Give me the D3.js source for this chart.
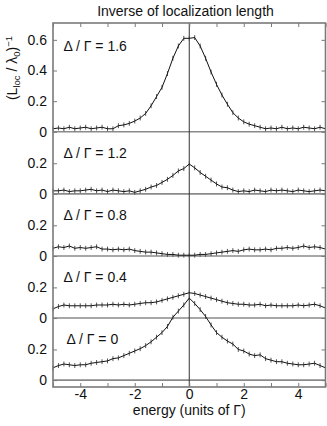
<!DOCTYPE html>
<html>
<head>
<meta charset="utf-8">
<script src="https://cdn.jsdelivr.net/npm/d3@7"></script>
<style>
  body { margin: 0; background: #fff; }
  svg { display: block; font-family: "Liberation Sans", Arial, sans-serif; }
</style>
</head>
<body>
<script>
// energy grid (units of Gamma)
var energy = [-5, -4.8, -4.6, -4.4, -4.2, -4, -3.8, -3.6, -3.4, -3.2, -3, -2.8, -2.6, -2.4, -2.2, -2,
  -1.8, -1.6, -1.4, -1.2, -1, -0.8, -0.6, -0.4, -0.2, 0, 0.2, 0.4, 0.6, 0.8, 1, 1.2, 1.4, 1.6, 1.8, 2,
  2.2, 2.4, 2.6, 2.8, 3, 3.2, 3.4, 3.6, 3.8, 4, 4.2, 4.4, 4.6, 4.8, 5];

// inverse localization length for each gap value
var gap16 = [0.02, 0.025, 0.02, 0.03, 0.02, 0.025, 0.03, 0.02, 0.025, 0.03, 0.02, 0.02, 0.04, 0.045, 0.055, 0.07,
  0.09, 0.12, 0.17, 0.23, 0.29, 0.38, 0.48, 0.56, 0.61, 0.61, 0.615, 0.56, 0.48, 0.39, 0.31, 0.24, 0.18, 0.125, 0.09, 0.065,
  0.05, 0.04, 0.03, 0.02, 0.025, 0.02, 0.03, 0.02, 0.025, 0.02, 0.03, 0.025, 0.02, 0.03, 0.02];
var gap12 = [0.02, 0.02, 0.025, 0.015, 0.02, 0.02, 0.025, 0.03, 0.02, 0.025, 0.015, 0.025, 0.02, 0.015, 0.02, 0.01,
  0.02, 0.03, 0.045, 0.055, 0.075, 0.095, 0.12, 0.15, 0.165, 0.195, 0.17, 0.14, 0.115, 0.09, 0.065, 0.045, 0.04, 0.025, 0.015, 0.02,
  0.015, 0.025, 0.02, 0.015, 0.025, 0.02, 0.025, 0.02, 0.015, 0.025, 0.02, 0.015, 0.02, 0.025, 0.02];
var gap08 = [0.05, 0.06, 0.055, 0.065, 0.05, 0.055, 0.05, 0.055, 0.06, 0.045, 0.045, 0.04, 0.045, 0.04, 0.045, 0.035,
  0.03, 0.025, 0.025, 0.02, 0.015, 0.01, 0.01, 0.005, 0.005, 0.005, 0.005, 0.01, 0.01, 0.015, 0.02, 0.025, 0.03, 0.035, 0.03, 0.04,
  0.045, 0.04, 0.04, 0.045, 0.04, 0.05, 0.05, 0.055, 0.05, 0.055, 0.065, 0.055, 0.06, 0.055, 0.045];
var gap04 = [0.06, 0.075, 0.085, 0.08, 0.08, 0.08, 0.08, 0.08, 0.085, 0.085, 0.085, 0.09, 0.085, 0.09, 0.085, 0.09,
  0.095, 0.1, 0.1, 0.105, 0.115, 0.125, 0.135, 0.145, 0.155, 0.165, 0.16, 0.15, 0.14, 0.13, 0.12, 0.11, 0.1, 0.095, 0.09, 0.09,
  0.085, 0.085, 0.09, 0.08, 0.085, 0.08, 0.08, 0.08, 0.08, 0.085, 0.08, 0.085, 0.09, 0.08, 0.065];
var gap00 = [0.08, 0.095, 0.105, 0.1, 0.095, 0.1, 0.1, 0.11, 0.115, 0.12, 0.125, 0.14, 0.145, 0.16, 0.175, 0.19,
  0.205, 0.225, 0.25, 0.28, 0.31, 0.35, 0.41, 0.45, 0.49, 0.535, 0.5, 0.46, 0.415, 0.36, 0.31, 0.28, 0.255, 0.235, 0.2, 0.19,
  0.17, 0.16, 0.165, 0.14, 0.13, 0.12, 0.12, 0.11, 0.105, 0.1, 0.1, 0.105, 0.11, 0.095, 0.08];

var series = [gap16, gap12, gap08, gap04, gap00];
var gapLabels = ["1.6", "1.2", "0.8", "0.4", "0"];
var offsets = [1.62, 1.215, 0.81, 0.405, 0];   // vertical shift of each curve
var errHalf = 0.016;

var yTicksTop = [0, 0.2, 0.4, 0.6];
var yTicksRest = [0, 0.2];
var xTicks = [-4, -2, 0, 2, 4];
var xMinorTicks = [-5, -4, -3, -2, -1, 0, 1, 2, 3, 4, 5];

// Set up the SVG container
var svg = d3.select("body").append("svg")
  .attr("width", 327)
  .attr("height", 426);

var margin = {top: 23, right: 1.5, bottom: 39, left: 53},
    width = 327 - margin.left - margin.right,
    height = 426 - margin.top - margin.bottom;

var g = svg.append("g")
  .attr("transform", "translate(" + margin.left + "," + margin.top + ")");

var x = d3.scaleLinear().domain([-5, 5]).range([0, width]);
var y = d3.scaleLinear().domain([-0.045, 2.33]).range([height, 0]);

// baselines of each panel
g.selectAll(".base")
  .data(offsets)
  .enter().append("line")
  .attr("class", "base")
  .attr("x1", 0).attr("x2", width)
  .attr("y1", function(d) { return y(d); })
  .attr("y2", function(d) { return y(d); })
  .style("stroke", "#8a8a8a")
  .style("stroke-width", 1.6);

// zero energy line
g.append("line")
  .attr("x1", x(0)).attr("x2", x(0))
  .attr("y1", 0).attr("y2", height)
  .style("stroke", "#333")
  .style("stroke-width", 1);

// curves with error bars
series.forEach(function(vals, i) {
  var off = offsets[i];
  var pts = energy.map(function(e, j) { return {e: e, v: vals[j] + off}; });

  g.selectAll(".err" + i)
    .data(pts)
    .enter().append("line")
    .attr("x1", function(d) { return x(d.e); })
    .attr("x2", function(d) { return x(d.e); })
    .attr("y1", function(d) { return y(d.v - errHalf); })
    .attr("y2", function(d) { return y(d.v + errHalf); })
    .style("stroke", "#555")
    .style("stroke-width", 1);

  var line = d3.line()
    .x(function(d) { return x(d.e); })
    .y(function(d) { return y(d.v); });

  g.append("path")
    .datum(pts)
    .attr("d", line)
    .style("fill", "none")
    .style("stroke", "#111")
    .style("stroke-width", 1);
});

// frame
g.append("rect")
  .attr("x", 0).attr("y", 0)
  .attr("width", width).attr("height", height)
  .style("fill", "none")
  .style("stroke", "#7a7a7a")
  .style("stroke-width", 1.6);

// x axes (ticks inward, bottom and top)
g.append("g")
  .attr("transform", "translate(0," + height + ")")
  .call(d3.axisBottom(x).tickValues(xMinorTicks).tickSize(-4).tickPadding(2)
    .tickFormat(function(d) { return xTicks.indexOf(d) >= 0 ? String(d) : ""; }));

g.append("g")
  .call(d3.axisTop(x).tickValues(xMinorTicks).tickSize(-4).tickFormat(""));

// y axes per panel
offsets.forEach(function(off, i) {
  var py = y.copy().domain(y.domain().map(function(d) { return d - off; }));
  var ticks = i === 0 ? yTicksTop : yTicksRest;
  g.append("g")
    .call(d3.axisLeft(py).tickValues(ticks).tickSize(-4).tickPadding(6)
      .tickFormat(function(d) { return d === 0 ? "0" : d3.format(".1f")(d); }));
  g.append("g")
    .attr("transform", "translate(" + width + ",0)")
    .call(d3.axisRight(py).tickValues(ticks).tickSize(-4).tickFormat(""));
});

g.selectAll(".domain").remove();
g.selectAll(".tick line").style("stroke", "#7a7a7a").style("stroke-width", 1);
g.selectAll(".tick text")
  .style("font-size", "14px")
  .style("font-family", "'Liberation Sans', Arial, sans-serif")
  .style("fill", "#111");

// panel labels
offsets.forEach(function(off, i) {
  g.append("text")
    .attr("x", i === 4 ? 13.5 : 10.5)
    .attr("y", y(off + (i === 0 ? 0.53 : 0.235)))
    .style("font-size", "14px")
    .style("fill", "#111")
    .text("\u0394 / \u0393 = " + gapLabels[i]);
});

// Add title
svg.append("text")
  .attr("x", 185.5)
  .attr("y", 15.5)
  .attr("text-anchor", "middle")
  .style("font-size", "14px")
  .style("fill", "#111")
  .text("Inverse of localization length");

// x-axis label
svg.append("text")
  .attr("x", margin.left + x(0))
  .attr("y", 415)
  .attr("text-anchor", "middle")
  .style("font-size", "14px")
  .style("fill", "#111")
  .text("energy (units of \u0393)");

// y-axis label
var yl = svg.append("text")
  .attr("transform", "translate(17," + (margin.top + 45) + ") rotate(-90)")
  .attr("text-anchor", "middle")
  .style("font-size", "14px")
  .style("fill", "#111");
yl.append("tspan").text("(L");
yl.append("tspan").attr("dy", 3).style("font-size", "9.5px").text("loc");
yl.append("tspan").attr("dy", -3).text(" / \u03bb");
yl.append("tspan").attr("dy", 3).style("font-size", "9.5px").text("0");
yl.append("tspan").attr("dy", -3).text(")");
yl.append("tspan").attr("dy", -5).style("font-size", "9.5px").text("\u22121");
</script>
</body>
</html>
